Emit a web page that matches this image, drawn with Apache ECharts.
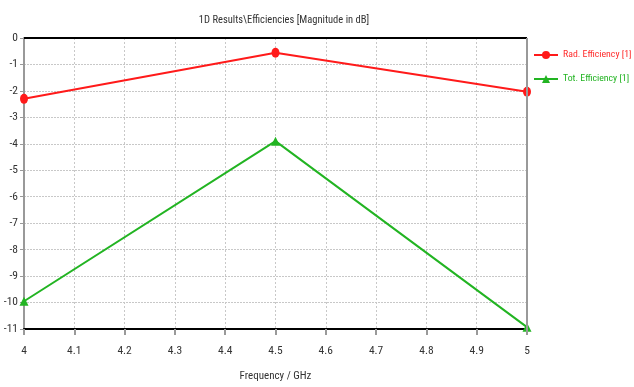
<!DOCTYPE html>
<html>
<head>
<meta charset="utf-8">
<script src="https://cdn.jsdelivr.net/npm/echarts@6/dist/echarts.min.js"></script>
<style>
  html, body { margin: 0; padding: 0; background: #fff; }
  #chart { width: 634px; height: 387px; }
</style>
</head>
<body>
<div id="chart"></div>
<script>
// Frequency sweep (GHz) and efficiencies (dB)
const frequencies = [4, 4.5, 5];
const radEfficiency = [-2.3, -0.56, -2.03];
const totEfficiency = [-9.95, -3.9, -10.93];
const seriesNames = ['Rad. Efficiency [1]', 'Tot. Efficiency [1]'];
const xTicks = [4, 4.1, 4.2, 4.3, 4.4, 4.5, 4.6, 4.7, 4.8, 4.9, 5];
const yTicks = [0, -1, -2, -3, -4, -5, -6, -7, -8, -9, -10, -11];

const FONT = '"Roboto Condensed", "Liberation Sans", sans-serif';
const chart = echarts.init(document.getElementById('chart'), null, { renderer: 'canvas' });

const pair = (xs, ys) => xs.map((x, i) => [x, ys[i]]);

chart.setOption({
  animation: false,
  backgroundColor: '#ffffff',
  title: {
    text: '1D Results\\Efficiencies [Magnitude in dB]',
    left: 279, top: 10, textAlign: 'center',
    textStyle: { fontFamily: FONT, fontSize: 10.5, fontWeight: 'normal', color: '#333' }
  },
  legend: {
    orient: 'vertical',
    left: 533, top: 50,
    padding: 0,
    itemGap: 14,
    itemWidth: 24, itemHeight: 10,
    textStyle: { fontFamily: FONT, fontSize: 9.8 },
    data: [
      { name: seriesNames[0], textStyle: { color: '#ff2a2a' } },
      { name: seriesNames[1], textStyle: { color: '#22b422' } }
    ]
  },
  grid: { left: 24, right: 107, top: 38, bottom: 53, show: false },
  xAxis: {
    type: 'value',
    min: xTicks[0], max: xTicks[xTicks.length - 1], interval: 0.1,
    name: 'Frequency / GHz', nameLocation: 'middle', nameGap: 42,
    nameTextStyle: { fontFamily: FONT, fontSize: 11, color: '#333' },
    axisLine: { show: true, onZero: false, lineStyle: { color: '#000', width: 2 } },
    axisTick: { show: true, length: 6, lineStyle: { color: '#999', width: 2 } },
    axisLabel: {
      fontFamily: FONT, fontSize: 11.5, color: '#333', margin: 16,
      formatter: v => String(Math.round(v * 10) / 10)
    },
    splitLine: { show: true, lineStyle: { color: '#c8c8c8', type: [2, 2], width: 1 } }
  },
  yAxis: {
    type: 'value',
    min: yTicks[yTicks.length - 1], max: yTicks[0], interval: 1,
    axisLine: { show: true, onZero: false, lineStyle: { color: '#999', width: 2 } },
    axisTick: { show: true, length: 4, lineStyle: { color: '#999' } },
    axisLabel: { fontFamily: FONT, fontSize: 11.5, color: '#333', margin: 6 },
    splitLine: { show: true, lineStyle: { color: '#c8c8c8', type: [2, 1], width: 1 } }
  },
  series: [
    {
      name: seriesNames[0], type: 'line',
      data: pair(frequencies, radEfficiency),
      color: '#ff1a1a',
      lineStyle: { width: 2 },
      symbol: 'circle', symbolSize: [8, 10],
      itemStyle: { color: '#ff1a1a' },
      z: 5
    },
    {
      name: seriesNames[1], type: 'line',
      data: pair(frequencies, totEfficiency),
      color: '#22b422',
      lineStyle: { width: 2 },
      symbol: 'triangle', symbolSize: 9,
      itemStyle: { color: '#22b422' },
      z: 5
    }
  ],
  graphic: [
    // frame: black top edge, gray right edge
    { type: 'line', shape: { x1: 24, y1: 38, x2: 527, y2: 38 }, style: { stroke: '#000', lineWidth: 2 }, z: 10 },
    { type: 'line', shape: { x1: 527, y1: 38, x2: 527, y2: 334 }, style: { stroke: '#999', lineWidth: 2 }, z: 10 }
  ]
});
</script>
</body>
</html>
